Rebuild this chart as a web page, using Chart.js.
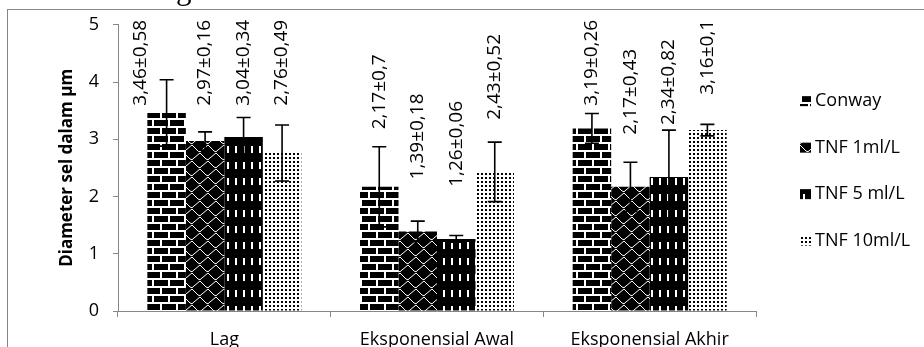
<!DOCTYPE html>
<html>
<head>
<meta charset="utf-8">
<script src="https://cdn.jsdelivr.net/npm/chart.js@4/dist/chart.umd.min.js"></script>
<style>
  html, body { margin: 0; padding: 0; background: #fff; }
  .page { position: relative; width: 924px; height: 347px; overflow: hidden; background: #fff; }
  .page canvas { position: absolute; left: 0; top: 0; }
  .cut { position: absolute; top: -27px; font: 31px 'Liberation Serif', serif; line-height: 31px; color: #000; white-space: nowrap; }
</style>
</head>
<body>
<div class="page">
  <canvas id="chart" width="924" height="347"></canvas>
  <span class="cut" style="left:0px">an</span>
  <span class="cut" style="left:152px">digunakan</span>
  <span class="cut" style="left:403px">oleh</span>
</div>
<script>
const categories = ['Lag', 'Eksponensial Awal', 'Eksponensial Akhir'];
const seriesNames = ['Conway', 'TNF 1ml/L', 'TNF 5 ml/L', 'TNF 10ml/L'];

const conway = [3.46, 2.17, 3.19];
const conwaySd = [0.58, 0.7, 0.26];
const tnf1 = [2.97, 1.39, 2.17];
const tnf1Sd = [0.16, 0.18, 0.43];
const tnf5 = [3.04, 1.26, 2.34];
const tnf5Sd = [0.34, 0.06, 0.82];
const tnf10 = [2.76, 2.43, 3.16];
const tnf10Sd = [0.49, 0.52, 0.1];

const yMin = 0;
const yMax = 5;
const yStep = 1;

const fontFamily = "'Open Sans', 'DejaVu Sans', sans-serif";
const axisGrey = '#868686';

// fill patterns like the old excel ones
function makePattern(w, h, draw) {
  const c = document.createElement('canvas');
  c.width = w;
  c.height = h;
  const g = c.getContext('2d');
  draw(g, w, h);
  return g.createPattern(c, 'repeat');
}

const brickFill = makePattern(16, 16, (g) => {
  g.fillStyle = '#000';
  g.fillRect(0, 0, 16, 16);
  g.fillStyle = '#fff';
  g.fillRect(0, 6, 16, 2);
  g.fillRect(0, 14, 16, 2);
  g.fillRect(0, 0, 2, 6);
  g.fillRect(8, 8, 2, 6);
});

const waveFill = makePattern(16, 16, (g) => {
  g.fillStyle = '#000';
  g.fillRect(0, 0, 16, 16);
  g.strokeStyle = '#fff';
  g.lineWidth = 1;
  const scale = (ox, oy) => {
    g.beginPath();
    g.moveTo(ox, oy + 1);
    g.lineTo(ox + 6, oy + 7);
    g.quadraticCurveTo(ox + 8, oy + 9, ox + 10, oy + 6);
    g.lineTo(ox + 16, oy + 1);
    g.stroke();
  };
  scale(0, 0);
  scale(-8, 8);
  scale(8, 8);
});

const dashFill = makePattern(8, 16, (g) => {
  g.fillStyle = '#000';
  g.fillRect(0, 0, 8, 16);
  g.fillStyle = '#fff';
  g.fillRect(3, 2, 2, 7);
});

const dotFill = makePattern(4, 4, (g) => {
  g.fillStyle = '#fff';
  g.fillRect(0, 0, 4, 4);
  g.fillStyle = '#000';
  g.fillRect(1, 1, 2, 2);
});

const seriesValues = [conway, tnf1, tnf5, tnf10];
const seriesSd = [conwaySd, tnf1Sd, tnf5Sd, tnf10Sd];
const seriesFills = [brickFill, waveFill, dashFill, dotFill];

const fmt = (v) => String(v).replace('.', ',');

const errorBarsAndLabels = {
  id: 'errorBarsAndLabels',
  afterDatasetsDraw(chart) {
    const ctx = chart.ctx;
    const yScale = chart.scales.y;
    ctx.save();
    chart.data.datasets.forEach((ds, i) => {
      const meta = chart.getDatasetMeta(i);
      meta.data.forEach((bar, j) => {
        const v = ds.data[j];
        const sd = ds.sd[j];
        const x = bar.x;
        const yHi = yScale.getPixelForValue(v + sd);
        const yLo = yScale.getPixelForValue(v - sd);
        ctx.strokeStyle = '#000';
        ctx.lineWidth = 1.6;
        ctx.beginPath();
        ctx.moveTo(x, yLo);
        ctx.lineTo(x, yHi);
        ctx.moveTo(x - 7, yHi);
        ctx.lineTo(x + 7, yHi);
        ctx.moveTo(x - 7, yLo);
        ctx.lineTo(x + 7, yLo);
        ctx.stroke();

        // value label, rotated, above the bar
        const text = fmt(v) + '±' + fmt(sd);
        ctx.font = '19px ' + fontFamily;
        const len = ctx.measureText(text).width;
        let cy = Math.max(bar.y - 95, chart.chartArea.top - 5 + len / 2);
        let cx = x;
        if (yHi < cy + len / 2) {
          cx = x - bar.width / 2 - 7;
        }
        ctx.save();
        ctx.translate(cx, cy);
        ctx.rotate(-Math.PI / 2);
        ctx.fillStyle = '#000';
        ctx.textAlign = 'center';
        ctx.textBaseline = 'middle';
        ctx.fillText(text, 0, 0);
        ctx.restore();
      });
    });
    ctx.restore();
  }
};

const sideLegend = {
  id: 'sideLegend',
  afterDraw(chart) {
    const ctx = chart.ctx;
    const area = chart.chartArea;
    const rowGap = 46.5;
    const midY = (area.top + area.bottom) / 2 + 3;
    const n = chart.data.datasets.length;
    ctx.save();
    chart.data.datasets.forEach((ds, i) => {
      const y = midY + (i - (n - 1) / 2) * rowGap;
      const bx = area.right + 44;
      ctx.fillStyle = ds.backgroundColor;
      ctx.fillRect(bx, y - 5, 11, 10);
      ctx.fillStyle = '#000';
      ctx.font = '18px ' + fontFamily;
      ctx.textAlign = 'left';
      ctx.textBaseline = 'middle';
      ctx.fillText(ds.label, bx + 15, y);
    });
    ctx.restore();
  }
};

const frame = {
  id: 'frame',
  beforeDraw(chart) {
    const ctx = chart.ctx;
    ctx.save();
    ctx.strokeStyle = axisGrey;
    ctx.lineWidth = 1;
    ctx.strokeRect(7.5, 9.5, 1000, 500);
    ctx.restore();
  }
};

new Chart(document.getElementById('chart'), {
  type: 'bar',
  data: {
    labels: categories,
    datasets: seriesNames.map((name, i) => ({
      label: name,
      data: seriesValues[i],
      sd: seriesSd[i],
      backgroundColor: seriesFills[i],
      borderWidth: 0,
      categoryPercentage: 0.724,
      barPercentage: 1
    }))
  },
  options: {
    responsive: false,
    animation: false,
    layout: { padding: { left: 0, top: 23, right: 168, bottom: 0 } },
    plugins: {
      legend: { display: false },
      tooltip: { enabled: false }
    },
    scales: {
      x: {
        grid: { drawOnChartArea: false, drawTicks: true, tickLength: 6, color: axisGrey, offset: true },
        border: { display: true, color: axisGrey, width: 1 },
        ticks: { font: { family: fontFamily, size: 18 }, color: '#000', padding: 12, maxRotation: 0, autoSkip: false },
        afterFit: (s) => { s.height = 36; }
      },
      y: {
        min: yMin,
        max: yMax,
        ticks: { stepSize: yStep, font: { family: fontFamily, size: 18 }, color: '#000', padding: 14 },
        grid: { drawOnChartArea: false, drawTicks: true, tickLength: 5, color: axisGrey },
        border: { display: true, color: axisGrey, width: 1 },
        title: {
          display: true,
          text: 'Diameter sel dalam µm',
          font: { family: fontFamily, size: 17, weight: 'bold' },
          color: '#000',
          padding: { top: 57, bottom: 0 }
        },
        afterFit: (s) => { s.width = 118; }
      }
    }
  },
  plugins: [frame, errorBarsAndLabels, sideLegend]
});
</script>
</body>
</html>
